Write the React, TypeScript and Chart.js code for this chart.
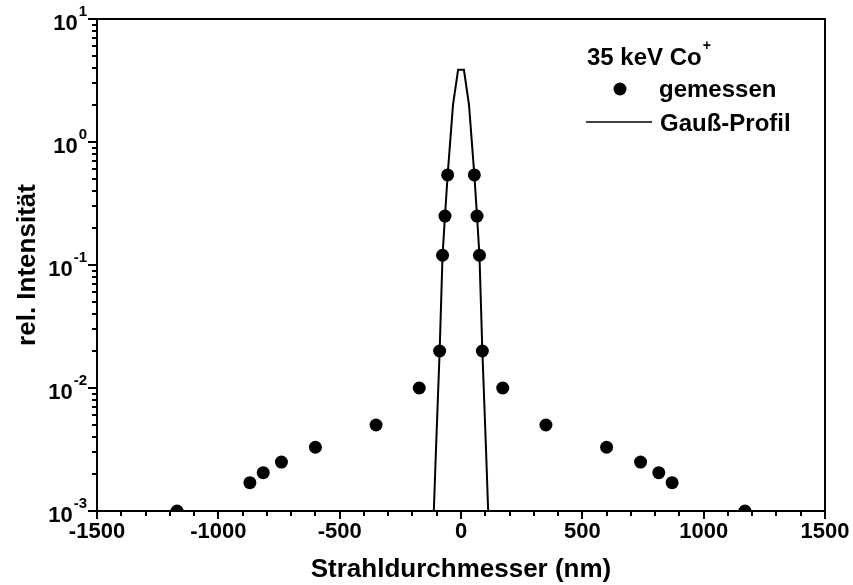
import React, { useEffect, useRef } from 'react';
import { Chart, registerables } from 'chart.js';

Chart.register(...registerables);

// Measured points (x in nm, relative intensity)
const measuredX = [-1170, -870, -815, -740, -600, -350, -172, -88, -76, -66, -55, 55, 66, 76, 88, 172, 350, 600, 740, 815, 870, 1170];
const measuredY = [0.001, 0.0017, 0.00205, 0.0025, 0.0033, 0.005, 0.01, 0.02, 0.12, 0.25, 0.54, 0.54, 0.25, 0.12, 0.02, 0.01, 0.005, 0.0033, 0.0025, 0.00205, 0.0017, 0.001];

// Gaussian profile curve
const profileX = [-112, -103, -88, -76, -66, -55, -33, -12, 12, 33, 55, 66, 76, 88, 103, 112];
const profileY = [0.001, 0.0032, 0.02, 0.12, 0.25, 0.54, 2.0, 3.86, 3.86, 2.0, 0.54, 0.25, 0.12, 0.02, 0.0032, 0.001];

// Axis ticks
const xMajorTicks = [-1500, -1000, -500, 0, 500, 1000, 1500];
const xMinorStep = 100;
const yDecades = [-3, -2, -1, 0, 1];
const yMinorMultipliers = [2, 3, 4, 5, 6, 7, 8, 9];

// Texts
const xTitle = 'Strahldurchmesser (nm)';
const yTitle = 'rel. Intensität';
const legendTitle = '35 keV Co';
const legendTitleSup = '+';
const seriesLabels = ['gemessen', 'Gauß-Profil'];

const FONT = "'Liberation Sans', Arial, Helvetica, sans-serif";

const decorPlugin = {
  id: 'decor',
  afterDraw(chart: any) {
    const { ctx, chartArea: a, scales } = chart;
    const x = scales.x;
    const y = scales.y;
    ctx.save();
    ctx.strokeStyle = '#000';
    ctx.fillStyle = '#000';
    ctx.lineWidth = 2;
    // frame
    ctx.strokeRect(a.left, a.top, a.right - a.left, a.bottom - a.top);

    // x ticks (outward, below)
    ctx.lineWidth = 2;
    const xmin = xMajorTicks[0];
    const xmax = xMajorTicks[xMajorTicks.length - 1];
    for (let v = xmin; v <= xmax; v += xMinorStep) {
      const px = Math.round(x.getPixelForValue(v));
      const major = xMajorTicks.includes(v);
      ctx.beginPath();
      ctx.moveTo(px, a.bottom);
      ctx.lineTo(px, a.bottom + (major ? 8 : 5));
      ctx.stroke();
    }

    // y ticks (outward, left)
    yDecades.forEach((d, i) => {
      const base = Math.pow(10, d);
      const py = Math.round(y.getPixelForValue(base));
      ctx.beginPath();
      ctx.moveTo(a.left - 9, py);
      ctx.lineTo(a.left, py);
      ctx.stroke();
      if (i < yDecades.length - 1) {
        yMinorMultipliers.forEach((m) => {
          const p = Math.round(y.getPixelForValue(m * base));
          ctx.beginPath();
          ctx.moveTo(a.left - 5, p);
          ctx.lineTo(a.left, p);
          ctx.stroke();
        });
      }
      // label 10^d
      const exp = String(d);
      ctx.font = `bold 15px ${FONT}`;
      const ew = ctx.measureText(exp).width;
      const expRight = a.left - 10;
      ctx.textAlign = 'left';
      ctx.textBaseline = 'alphabetic';
      ctx.fillText(exp, expRight - ew, py - 3);
      ctx.font = `bold 22px ${FONT}`;
      ctx.textAlign = 'right';
      ctx.fillText('10', expRight - ew - 1, py + 11);
    });

    // legend
    ctx.textAlign = 'left';
    ctx.textBaseline = 'alphabetic';
    ctx.font = `bold 24px ${FONT}`;
    const lx = 587;
    ctx.fillText(legendTitle, lx, 65);
    const tw = ctx.measureText(legendTitle).width;
    ctx.font = `bold 14px ${FONT}`;
    ctx.fillText(legendTitleSup, lx + tw + 1, 50);

    ctx.font = `bold 24px ${FONT}`;
    ctx.beginPath();
    ctx.arc(620, 89, 6.5, 0, Math.PI * 2);
    ctx.fill();
    ctx.fillText(seriesLabels[0], 659, 97);

    ctx.lineWidth = 1.5;
    ctx.beginPath();
    ctx.moveTo(586, 122);
    ctx.lineTo(652, 122);
    ctx.stroke();
    ctx.fillText(seriesLabels[1], 660, 131);

    ctx.restore();
  },
};

export default function App() {
  const canvasRef = useRef<HTMLCanvasElement | null>(null);

  useEffect(() => {
    if (!canvasRef.current) return;
    const chart = new Chart(canvasRef.current, {
      type: 'scatter',
      data: {
        datasets: [
          {
            label: seriesLabels[0],
            data: measuredX.map((v, i) => ({ x: v, y: measuredY[i] })),
            pointRadius: 6.5,
            pointHoverRadius: 6.5,
            pointBackgroundColor: '#000',
            pointBorderWidth: 0,
            showLine: false,
            clip: 0,
          } as any,
          {
            label: seriesLabels[1],
            data: profileX.map((v, i) => ({ x: v, y: profileY[i] })),
            showLine: true,
            borderColor: '#000',
            borderWidth: 2,
            pointRadius: 0,
            tension: 0,
            clip: 0,
          } as any,
        ],
      },
      options: {
        animation: false,
        responsive: true,
        maintainAspectRatio: false,
        layout: { padding: { left: 0, right: 28, top: 19, bottom: 0 } },
        plugins: { legend: { display: false }, tooltip: { enabled: false } },
        scales: {
          x: {
            type: 'linear',
            min: -1500,
            max: 1500,
            afterFit(s: any) {
              s.height = 74;
              s.paddingLeft = 0;
              s.paddingRight = 0;
            },
            afterBuildTicks(s: any) {
              s.ticks = xMajorTicks.map((v) => ({ value: v }));
            },
            grid: { display: false, drawTicks: false },
            border: { display: true, color: '#000', width: 2 },
            ticks: {
              color: '#000',
              font: { family: FONT, size: 22, weight: 'bold' },
              padding: 8,
              maxRotation: 0,
              autoSkip: false,
              callback: (v: any) => String(v),
            },
            title: {
              display: true,
              text: xTitle,
              color: '#000',
              font: { family: FONT, size: 26, weight: 'bold' },
              padding: { top: 0, bottom: 0 },
            },
          },
          y: {
            type: 'logarithmic',
            min: 0.001,
            max: 10,
            afterFit(s: any) {
              s.width = 97;
              s.paddingTop = 0;
              s.paddingBottom = 0;
            },
            grid: { display: false, drawTicks: false },
            border: { display: true, color: '#000', width: 2 },
            ticks: { display: false },
            title: {
              display: true,
              text: yTitle,
              color: '#000',
              font: { family: FONT, size: 26, weight: 'bold' },
              padding: { top: 12, bottom: 0 },
            },
          },
        },
      } as any,
      plugins: [decorPlugin],
    });
    return () => chart.destroy();
  }, []);

  return (
    <div style={{ position: 'fixed', left: 0, top: 0, width: 853, height: 585, background: '#fff' }}>
      <canvas ref={canvasRef} />
    </div>
  );
}
